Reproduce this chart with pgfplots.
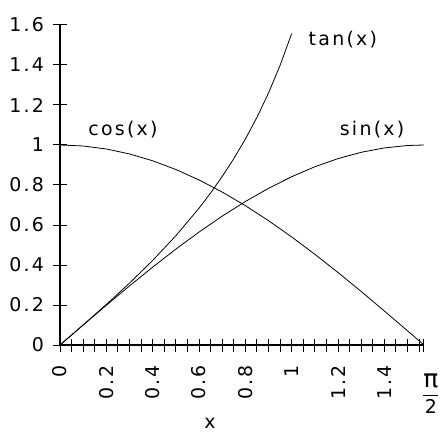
\documentclass[border=0pt]{standalone}
\usepackage{fontspec}
\setmainfont{DejaVu Sans}[LetterSpace=12]
\usepackage{pgfplots}
\pgfplotsset{compat=1.18}

% sampled values of sin, cos and tan on [0, pi/2]
\pgfplotstableread{
x       s       c
0       0       1
0.1     0.0998  0.9950
0.2     0.1987  0.9801
0.3     0.2955  0.9553
0.4     0.3894  0.9211
0.5     0.4794  0.8776
0.6     0.5646  0.8253
0.7     0.6442  0.7648
0.8     0.7174  0.6967
0.9     0.7833  0.6216
1.0     0.8415  0.5403
1.1     0.8912  0.4536
1.2     0.9320  0.3624
1.3     0.9636  0.2675
1.4     0.9854  0.1700
1.5     0.9975  0.0707
1.5708  1.0     0
}\trig
\pgfplotstableread{
x       t
0       0
0.1     0.1003
0.2     0.2027
0.3     0.3093
0.4     0.4228
0.5     0.5463
0.6     0.6841
0.65    0.7602
0.7     0.8423
0.75    0.9316
0.8     1.0296
0.85    1.1383
0.9     1.2602
0.95    1.3984
1.0     1.5574
}\tang

\newcommand{\lblfont}{\fontsize{19}{22}\selectfont}

\begin{document}
\begin{tikzpicture}
\useasboundingbox (-60bp,-88bp) rectangle (380bp,345bp);
\begin{axis}[
  at={(0,0)}, anchor=origin,
  x=231.7bp, y=200bp,
  xmin=0, xmax=1.5708, ymin=0, ymax=1.6,
  axis lines=left,
  axis line style={-, line width=1.1bp},
  clip=false,
  tick align=center,
  major tick length=13bp, minor tick length=13bp,
  tick style={line width=1bp, black},
  xtick={0,0.2,0.4,0.6,0.8,1,1.2,1.4,1.5708},
  xticklabels={0,0.2,0.4,0.6,0.8,1,1.2,1.4,},
  minor xtick={0.05,0.1,0.15,0.25,0.3,0.35,0.45,0.5,0.55,0.65,0.7,0.75,0.85,0.9,0.95,1.05,1.1,1.15,1.25,1.3,1.35,1.45,1.5,1.55},
  ytick={0,0.2,0.4,0.6,0.8,1,1.2,1.4,1.6},
  yticklabels={0,0.2,0.4,0.6,0.8,1,1.2,1.4,1.6},
  tick label style={font=\lblfont},
  xticklabel style={rotate=90, anchor=east},
  xticklabel shift=10bp,
  yticklabel style={anchor=east},
  yticklabel shift=6bp,
  xlabel={x},
  xlabel style={font=\lblfont, at={(rel axis cs:0.412,0)}, anchor=center, yshift=-78bp},
]
\addplot[black, line width=0.8bp] table[x=x, y=c] {\trig};
\addplot[black, line width=0.8bp] table[x=x, y=s] {\trig};
\addplot[black, line width=0.8bp] table[x=x, y=t] {\tang};
\node[font=\lblfont] at (axis cs:0.272,1.075) {cos(x)};
\node[font=\lblfont] at (axis cs:1.221,1.525) {tan(x)};
\node[font=\lblfont] at (axis cs:1.347,1.075) {sin(x)};
% end tick label pi/2, set as an upright fraction
\node[font=\lblfont, anchor=center, inner sep=0pt] at (axis cs:1.5708,0) [xshift=7bp, yshift=-51bp]
  {\setlength{\tabcolsep}{0pt}\renewcommand{\arraystretch}{1.0}%
   \begin{tabular}{c}{\fontsize{25}{26}\selectfont π}\\[1pt]\hline\rule{0pt}{18pt}2\end{tabular}};
\end{axis}
\end{tikzpicture}
\end{document}
